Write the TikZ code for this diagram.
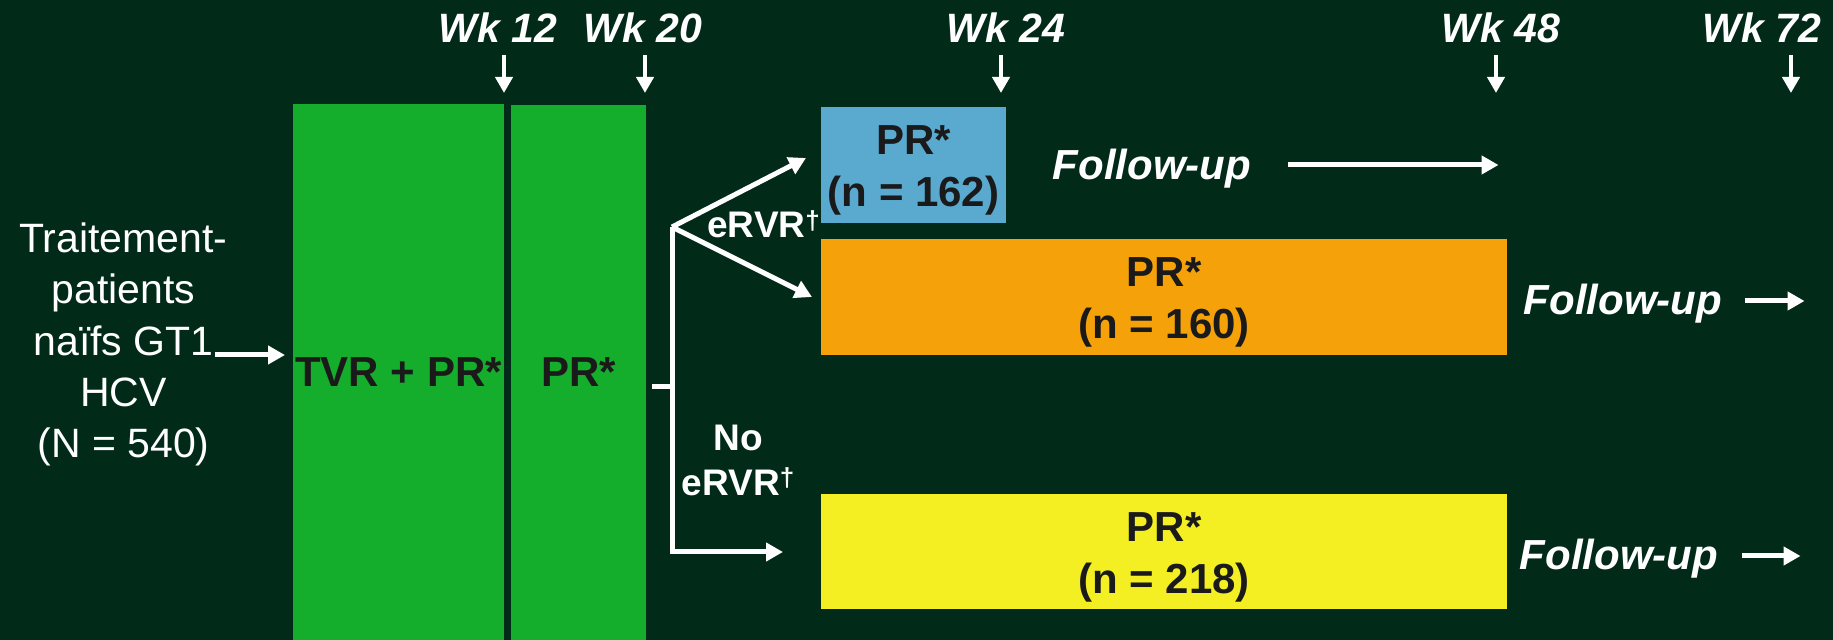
\documentclass[tikz,border=0pt]{standalone}
\usepackage{fontspec}
\setmainfont{Liberation Sans}
\usetikzlibrary{arrows.meta}
\definecolor{bg}{HTML}{012A19}
\definecolor{armgreen}{HTML}{14AD2C}
\definecolor{armblue}{HTML}{5AAAD0}
\definecolor{armorange}{HTML}{F5A20A}
\definecolor{armyellow}{HTML}{F4EF22}
\definecolor{ink}{HTML}{1A1A1A}
\newcommand{\dagmark}{\raisebox{4.2pt}{\fontsize{13}{13}\selectfont †}}
\begin{document}
\begin{tikzpicture}[x=0.5pt,y=-0.5pt,
  box/.style={inner sep=0pt, outer sep=0pt, anchor=north west, text=ink,
    font=\bfseries\fontsize{21}{26}\selectfont},
  boxtext/.style={inner sep=0pt, align=center, text=ink,
    font=\bfseries\fontsize{21}{26}\selectfont},
  wk/.style={inner sep=0pt, anchor=base, text=white,
    font=\bfseries\itshape\fontsize{20.5}{24}\selectfont},
  fu/.style={inner sep=0pt, anchor=base, text=white,
    font=\bfseries\itshape\fontsize{21}{26}\selectfont},
  lab/.style={inner sep=0pt, text=white,
    font=\bfseries\fontsize{18.5}{22.5}\selectfont},
  line/.style={draw=white, line width=2.5pt},
  arr/.style={draw=white, line width=2.5pt, -{Triangle[width=9pt,length=8.5pt]}},
  warr/.style={draw=white, line width=2.2pt, -{Triangle[width=8.5pt,length=8pt]}}]

% background and page size
\fill[bg] (0,0) rectangle (1833,640);
\useasboundingbox (0,0) rectangle (1833,640);

% population
\node[inner sep=0pt, align=center, text=white,
  font=\fontsize{20.5}{25.6}\selectfont] (pop) at (123.5,344.5)
  {Traitement-\\patients\\naïfs GT1\\HCV\\(N = 540)};

% treatment phases
\node[box, fill=armgreen, minimum width=105.5pt, minimum height=268pt] (tvr) at (293,104) {TVR + PR*};
\node[box, fill=armgreen, minimum width=67.5pt, minimum height=267.5pt] (pr2) at (511,105) {PR*};

\node[box, fill=armblue, minimum width=92.5pt, minimum height=58pt] (blue) at (821,107) {};
\node[box, fill=armorange, minimum width=343pt, minimum height=58pt] (orange) at (821,239) {};
\node[box, fill=armyellow, minimum width=343pt, minimum height=57.5pt] (yellow) at (821,494) {};
\node[boxtext] (bluet) at ([yshift=-2.75pt]blue.center) {PR*\\(n = 162)};
\node[boxtext] (oranget) at ([yshift=-2.75pt]orange.center) {PR*\\(n = 160)};
\node[boxtext] (yellowt) at ([yshift=-2.75pt]yellow.center) {PR*\\(n = 218)};

% week markers
\node[wk] (w12) at (498,43) {Wk 12};
\node[wk] (w20) at (643,43) {Wk 20};
\node[wk] (w24) at (1006,43) {Wk 24};
\node[wk] (w48) at (1501,43) {Wk 48};
\node[wk] (w72) at (1762,43) {Wk 72};
\draw[warr] ([shift={(6,12)}]w12.base) -- ++(0,38);
\draw[warr] ([shift={(2,12)}]w20.base) -- ++(0,38);
\draw[warr] ([shift={(-5,12)}]w24.base) -- ++(0,38);
\draw[warr] ([shift={(-5,12)}]w48.base) -- ++(0,38);
\draw[warr] ([shift={(29,12)}]w72.base) -- ++(0,38);

% entry arrow
\coordinate (inp) at (215,355);
\draw[arr] (inp) -- ([xshift=-4pt]tvr.west |- inp);

% response split
\coordinate (j) at (672,387);
\coordinate (jt) at (672,227);
\coordinate (jb) at (672,552);
\draw[line] ([xshift=3pt]pr2.east |- j) -- (j);
\draw[arr] (jt) -- (jb) -- ([xshift=-19pt]yellow.west |- jb);
\draw[arr] (jt) -- ([shift={(-15,-7)}]blue.west);
\draw[arr] (jt) -- ([xshift=-4.5pt]orange.west);

\node[lab, anchor=base west] (e1) at (707,238) {eRVR\dagmark};
\node[lab, align=center] (e2) at (738,460) {No\\eRVR\dagmark};

% follow-up
\node[fu] (fu1) at (1152,180) {Follow-up};
\node[fu] (fu2) at (1623,315) {Follow-up};
\node[fu] (fu3) at (1619,570) {Follow-up};
\draw[arr] ([shift={(36,-15)}]fu1.base east) -- ++(211,0);
\draw[arr] ([shift={(22,-14)}]fu2.base east) -- ++(60,0);
\draw[arr] ([shift={(23,-14)}]fu3.base east) -- ++(59,0);
\end{tikzpicture}
\end{document}
